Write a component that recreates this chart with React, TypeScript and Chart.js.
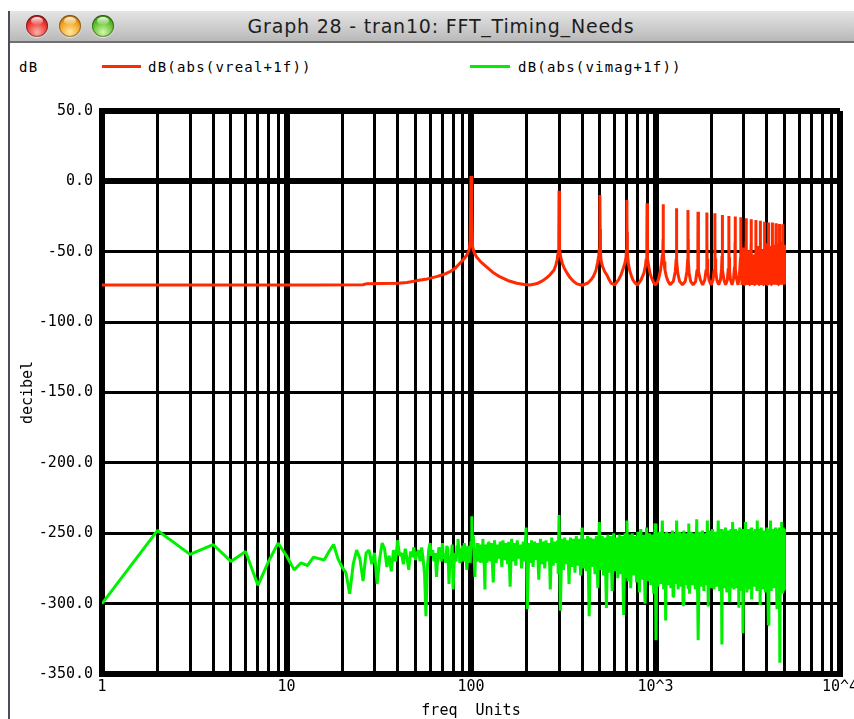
import React, { useEffect, useRef } from "react";
import { Chart, registerables } from "chart.js";

Chart.register(...registerables);

// ---------------- data ----------------
const windowTitle = "Graph 28 - tran10: FFT_Timing_Needs";
const yUnitLabel = "dB";
const redLabel = "dB(abs(vreal+1f))";
const greenLabel = "dB(abs(vimag+1f))";
const xTitle = "freq  Units";
const yTitle = "decibel";

const xGridTicks = [
  1, 2, 3, 4, 5, 6, 7, 8, 9,
  10, 20, 30, 40, 50, 60, 70, 80, 90,
  100, 200, 300, 400, 500, 600, 700, 800, 900,
  1000, 2000, 3000, 4000, 5000, 6000, 7000, 8000, 9000,
  10000,
];
const xDecadeValues = [1, 10, 100, 1000, 10000];
const xDecadeLabels = ["1", "10", "100", "10^3", "10^4"];
const yTickValues = [-350, -300, -250, -200, -150, -100, -50, 0, 50];

// red: dB(abs(vreal+1f)) — [freq, dB]
const redLow: [number, number][] = [
  [1, -73.6], [14, -73.6], [26, -73.4], [27, -72.8], [40, -72.4], [45, -71.8], [51, -70.5],
  [58, -69.3], [65, -67.7], [71, -66.2], [77, -64.2], [82, -61.8], [87, -58.2], [91, -55.5],
  [95, -52.3], [97, -49.5], [98, -47.6], [99, -42], [100, 3.8], [101, -16.8], [102, -46.5],
  [104, -50.5], [107, -53.5], [113, -57.2], [121, -60.6], [131, -64.5], [143, -67.7],
  [158, -70.4], [177, -72.4], [195, -73.3], [209, -73.6], [228, -72.6], [245, -70.5],
  [255, -68.9], [268, -66.4], [282, -63], [289, -59], [293, -55.9], [297, -50], [299, -43],
  [300, -6.6], [301, -32], [303, -48], [306, -53.5], [313, -58.5], [320, -61.5], [331, -65],
  [345, -68.5], [359, -71], [375, -72.8], [400, -73.8], [430, -72.2], [450, -69.5],
  [460, -67.7], [475, -63.5], [485, -58], [492, -53], [496, -48], [499, -40], [500, -9.7],
  [501, -34], [503, -50], [507, -56], [515, -60], [530, -64], [545, -66.5], [560, -69.8],
  [575, -72.4], [600, -73.6], [630, -70], [650, -66.5], [670, -61.5], [683, -58], [692, -54],
  [697, -48], [699, -41], [700, -13.2], [701, -36], [704, -50], [712, -58], [725, -63.5],
  [740, -67], [754, -70], [775, -72.2], [800, -73.6], [835, -70], [866, -65], [882, -60],
  [891, -55], [896, -50], [899, -42], [900, -15.5], [901, -38], [904, -50], [910, -55],
  [921, -61], [935, -65.5], [955, -69], [981, -72.4], [1000, -73.6], [1025, -71.5],
  [1040, -69], [1065, -63], [1080, -57], [1090, -52], [1097, -47], [1099, -41], [1100, -16.3],
  [1101, -38], [1104, -50], [1112, -57], [1125, -63], [1145, -67.5], [1170, -71], [1200, -73.5],
];
const redMid: [number, number][] = [
  [1250, -71], [1280, -64], [1295, -55], [1299, -46], [1300, -19.1], [1301, -42], [1305, -56], [1320, -65], [1350, -71], [1400, -73.5],
  [1450, -71], [1480, -64], [1495, -55], [1499, -45], [1500, -20.3], [1501, -41], [1505, -56], [1520, -65], [1550, -71], [1600, -73.5],
  [1650, -71], [1680, -63], [1695, -54], [1699, -45], [1700, -21.5], [1701, -40], [1705, -55], [1720, -64], [1750, -70], [1800, -73.5],
  [1850, -70], [1880, -63], [1895, -54], [1899, -45], [1900, -22.2], [1901, -42], [1905, -55], [1920, -64], [1950, -70], [2000, -73.5],
  [2050, -70], [2080, -63], [2095, -54], [2099, -48], [2100, -22.7], [2101, -45], [2105, -55], [2120, -64], [2150, -70], [2200, -73.5],
  [2250, -70], [2280, -62], [2295, -53], [2299, -45], [2300, -23.9], [2301, -42], [2305, -54], [2320, -63], [2350, -70], [2400, -73.5],
  [2450, -70], [2480, -62], [2495, -53], [2499, -44], [2500, -24.6], [2501, -41], [2505, -54], [2520, -63], [2550, -70], [2600, -73.5],
  [2650, -69], [2680, -61], [2695, -52], [2699, -43], [2700, -25.0], [2701, -41], [2705, -53], [2720, -62], [2750, -69], [2800, -73.5],
];
const redHigh: [number, number][] = [
  [2850, -67], [2890, -54], [2899, -43], [2900, -25.5], [2901, -41], [2910, -55], [2945, -73.5], [3000, -47], [3040, -73.5],
  [3050, -67], [3090, -54], [3099, -43], [3100, -26.2], [3101, -41], [3110, -55], [3145, -73.5], [3200, -49], [3240, -73.5],
  [3250, -67], [3290, -54], [3299, -44], [3300, -26.9], [3301, -42], [3310, -55], [3345, -73.5], [3400, -52], [3440, -73.5],
  [3450, -67], [3490, -55], [3499, -45], [3500, -27.4], [3501, -43], [3510, -56], [3545, -73.5], [3600, -46], [3640, -73.5],
  [3650, -66], [3690, -54], [3699, -43], [3700, -28.0], [3701, -41], [3710, -55], [3745, -73.5], [3800, -48], [3840, -73.5],
  [3850, -66], [3890, -54], [3899, -42], [3900, -28.6], [3901, -40], [3910, -55], [3945, -73.5], [4000, -44], [4040, -73.5],
  [4050, -66], [4090, -54], [4099, -42], [4100, -29.3], [4101, -40], [4110, -55], [4145, -73.5], [4200, -46], [4240, -73.5],
  [4250, -66], [4290, -54], [4299, -42], [4300, -29.3], [4301, -41], [4310, -55], [4345, -73.5], [4400, -45], [4440, -73.5],
  [4450, -66], [4490, -54], [4499, -42], [4500, -29.8], [4501, -40], [4510, -55], [4545, -73.5], [4600, -44], [4640, -73.5],
  [4650, -66], [4690, -54], [4699, -42], [4700, -30.2], [4701, -40], [4710, -55], [4745, -73.5], [4800, -43], [4840, -73.5],
  [4850, -66], [4890, -54], [4899, -42], [4900, -30.5], [4901, -40], [4910, -55], [4945, -73.5], [4980, -45], [5000, -73.5],
];

// green: dB(abs(vimag+1f)) — [freq, dB]
const greenLow: [number, number][] = [
  [1, -300], [2, -248], [3, -265], [4, -258], [5, -270], [6, -263], [7, -287], [8, -270], [9, -257],
  [10, -266], [11, -276], [12, -271], [13, -273], [14, -267], [15, -268], [16, -269], [17, -263],
  [18, -258], [19, -268], [20, -274], [21, -278], [22, -293], [23, -272], [24, -262], [25, -268],
  [26, -284], [27, -264], [28, -262], [29, -272], [30, -264], [31, -286], [32, -268], [33, -257],
  [34, -261], [35, -274], [36, -266], [37, -277], [38, -262], [39, -270], [40, -255], [41, -266],
  [42, -264], [43, -272], [44, -261], [45, -268], [46, -276], [47, -263], [48, -267], [49, -260],
  [50, -269], [51, -264], [52, -262], [53, -270], [54, -260], [55, -268], [56, -279], [57, -309],
  [58, -274], [59, -262], [60, -257], [61, -266], [62, -262], [63, -270], [64, -264], [65, -281],
  [66, -268], [67, -260], [68, -266], [69, -270], [70, -257], [71, -268], [72, -265], [73, -271],
  [74, -259], [75, -262], [76, -286], [77, -266], [78, -270], [79, -258], [80, -290], [81, -272],
  [82, -264], [83, -270], [84, -259], [85, -254], [86, -263], [87, -271], [88, -269], [89, -262],
  [90, -259], [91, -270], [92, -257], [93, -266], [94, -268], [95, -276], [96, -259], [97, -262],
  [98, -268], [99, -271], [100, -256], [101, -238], [102, -259], [103, -252], [104, -266],
  [105, -281], [106, -262], [107, -270], [108, -257], [109, -268], [110, -270], [111, -258],
  [112, -264], [113, -271], [114, -258], [115, -267], [116, -254], [117, -268], [118, -273],
  [119, -290], [120, -258], [121, -262], [122, -271], [123, -259], [124, -257],
];
const greenMid: [number, number][] = [
  [125, -256], [127, -270], [129, -257], [132, -285], [134, -255], [137, -271], [139, -258],
  [142, -268], [144, -256], [147, -274], [149, -255], [152, -269], [155, -257], [158, -272],
  [160, -256], [163, -288], [166, -254], [169, -270], [172, -257], [175, -273], [178, -255],
  [182, -268], [185, -258], [188, -275], [192, -256], [195, -270], [199, -246], [202, -304],
  [206, -257], [210, -271], [213, -255], [217, -274], [221, -256], [225, -269], [229, -257],
  [233, -283], [238, -254], [242, -272], [246, -256], [251, -275], [255, -255], [260, -270],
  [265, -257], [269, -290], [274, -253], [279, -273], [284, -256], [289, -271], [295, -255],
  [297, -279], [300, -237], [305, -305], [311, -254], [317, -276], [322, -253], [328, -272],
  [334, -255], [340, -286], [346, -253], [353, -274], [359, -254], [366, -278], [372, -252],
  [379, -273], [386, -254], [393, -280], [400, -246], [407, -275], [414, -254], [422, -277],
  [429, -252], [437, -309], [445, -253], [453, -274], [461, -254], [470, -279], [478, -252],
  [487, -289], [496, -242], [505, -276], [514, -252], [523, -280], [532, -253], [542, -303],
  [552, -251], [562, -278], [572, -252], [582, -291], [593, -250], [603, -277], [614, -253],
  [625, -282], [637, -251], [648, -279], [660, -252], [672, -308], [684, -250], [696, -281],
  [700, -241], [709, -284], [721, -251], [734, -289], [748, -250], [761, -280], [775, -252],
  [789, -285], [803, -249], [818, -292], [832, -247], [847, -283], [863, -251], [878, -300],
  [894, -246], [910, -284], [927, -250], [943, -287], [960, -251], [978, -293], [995, -243],
];
const greenHigh: [number, number][] = [
  [1006, -326], [1020, -250], [1032, -288], [1050, -249], [1069, -286], [1089, -241], [1108, -290],
  [1128, -250], [1135, -312], [1149, -249], [1170, -287], [1191, -250], [1212, -289], [1234, -248],
  [1245, -295], [1256, -250], [1279, -286], [1302, -241], [1326, -290], [1350, -249], [1374, -288],
  [1399, -250], [1410, -301], [1424, -248], [1450, -287], [1476, -250], [1503, -289], [1515, -243],
  [1530, -293], [1558, -249], [1586, -287], [1614, -250], [1643, -290], [1673, -240], [1703, -326],
  [1734, -249], [1765, -288], [1797, -248], [1830, -291], [1863, -250], [1896, -287], [1910, -241],
  [1931, -302], [1965, -248], [2001, -289], [2037, -247], [2074, -290], [2111, -249], [2149, -288],
  [2188, -241], [2228, -291], [2268, -247], [2290, -329], [2309, -248], [2350, -289], [2393, -246],
  [2436, -292], [2480, -248], [2525, -299], [2570, -247], [2600, -288], [2617, -242], [2664, -290],
  [2712, -247], [2761, -289], [2811, -248], [2830, -303], [2861, -246], [2913, -291], [2965, -247],
  [2980, -321], [3019, -248], [3050, -289], [3073, -242], [3129, -292], [3185, -247], [3243, -290],
  [3301, -246], [3320, -297], [3361, -248], [3421, -288], [3483, -247], [3546, -291], [3560, -241],
  [3610, -289], [3675, -247], [3690, -301], [3741, -246], [3808, -290], [3877, -248], [3947, -292],
  [4018, -246], [4091, -315], [4120, -247], [4164, -290], [4200, -241], [4239, -291], [4316, -247],
  [4394, -289], [4473, -246], [4554, -304], [4600, -247], [4636, -290], [4680, -246], [4719, -342],
  [4760, -247], [4804, -291], [4830, -242], [4891, -293], [4930, -246], [4979, -290], [4995, -247],
];

// ---------------- styles ----------------
const RED = "#ff2a00";
const GREEN = "#00f000";
const MONO = "'DejaVu Sans Mono', monospace";

const toXY = (pts: [number, number][]) => pts.map(([x, y]) => ({ x, y }));

function Light({ left, c1, c2, c3 }: { left: number; c1: string; c2: string; c3: string }) {
  return (
    <div
      style={{
        position: "absolute",
        left,
        top: 15,
        width: 22,
        height: 22,
        borderRadius: "50%",
        background: `radial-gradient(circle at 50% 78%, ${c1} 0%, ${c2} 55%, ${c3} 100%)`,
        boxShadow: "inset 0 0 0 1px rgba(0,0,0,0.35), 0 1px 1px rgba(255,255,255,0.6)",
      }}
    >
      <div
        style={{
          position: "absolute",
          left: 5,
          top: 2,
          width: 12,
          height: 8,
          borderRadius: "50%",
          background: "linear-gradient(rgba(255,255,255,0.95), rgba(255,255,255,0.05))",
        }}
      />
    </div>
  );
}

export default function App() {
  const ref = useRef<HTMLCanvasElement | null>(null);

  useEffect(() => {
    if (!ref.current) return;
    const tickFont = { family: MONO, size: 15 };
    const chart = new Chart(ref.current, {
      type: "line",
      data: {
        datasets: [
          {
            label: redLabel,
            data: toXY([...redLow, ...redMid, ...redHigh]),
            borderColor: RED,
            backgroundColor: RED,
            borderWidth: 3,
            pointRadius: 0,
            tension: 0,
            borderJoinStyle: "bevel",
          },
          {
            label: greenLabel,
            data: toXY([...greenLow, ...greenMid, ...greenHigh]),
            borderColor: GREEN,
            backgroundColor: GREEN,
            borderWidth: 3,
            pointRadius: 0,
            tension: 0,
            borderJoinStyle: "bevel",
          },
        ],
      },
      options: {
        animation: false,
        responsive: false,
        maintainAspectRatio: false,
        events: [],
        layout: { padding: { left: 0, right: 50, top: 21, bottom: 0 } },
        plugins: { legend: { display: false }, tooltip: { enabled: false } },
        scales: {
          x: {
            type: "logarithmic",
            min: 1,
            max: 10000,
            afterBuildTicks: (s: any) => {
              s.ticks = xGridTicks.map((v) => ({ value: v }));
            },
            afterFit: (s: any) => {
              s.height = 45;
            },
            ticks: {
              autoSkip: false,
              maxRotation: 0,
              minRotation: 0,
              padding: 4,
              color: "#000",
              font: tickFont,
              callback: (v: any) => {
                const i = xDecadeValues.indexOf(Number(v));
                return i >= 0 ? xDecadeLabels[i] : "";
              },
            },
            grid: {
              color: "#000",
              drawTicks: false,
              lineWidth: (ctx: any) =>
                ctx.tick && xDecadeValues.indexOf(ctx.tick.value) >= 0 ? 6 : 3,
            },
            border: { display: true, color: "#000", width: 6 },
            title: {
              display: true,
              text: xTitle,
              color: "#000",
              font: { family: MONO, size: 15, lineHeight: 1.07 },
              padding: { top: 0, bottom: 0 },
            },
          },
          y: {
            type: "linear",
            min: -350,
            max: 50,
            afterBuildTicks: (s: any) => {
              s.ticks = yTickValues.map((v) => ({ value: v }));
            },
            afterFit: (s: any) => {
              s.width = 92;
            },
            ticks: {
              padding: 9,
              color: "#000",
              font: tickFont,
              callback: (v: any) => Number(v).toFixed(1),
            },
            grid: {
              color: "#000",
              drawTicks: false,
              lineWidth: (ctx: any) =>
                ctx.tick && (ctx.tick.value === 0 || ctx.tick.value === 50) ? 6 : 3,
            },
            border: { display: true, color: "#000", width: 6 },
            title: {
              display: true,
              text: yTitle,
              color: "#000",
              font: { family: MONO, size: 15, lineHeight: 1.07 },
              padding: { top: 10, bottom: 0 },
            },
          },
        },
      },
    } as any);
    return () => chart.destroy();
  }, []);

  return (
    <div
      style={{
        position: "fixed",
        left: 0,
        top: 0,
        width: 854,
        height: 719,
        overflow: "hidden",
        background: "#fff",
      }}
    >
      {/* window left edge */}
      <div style={{ position: "absolute", left: 8, top: 11, width: 2, height: 708, background: "#4e4a62" }} />
      {/* title bar */}
      <div
        style={{
          position: "absolute",
          left: 10,
          top: 11,
          width: 844,
          height: 30,
          background: "linear-gradient(#e4e4e4, #cfcfcf 50%, #b9b9b9)",
          borderBottom: "2px solid #6f6f6f",
        }}
      />
      <Light left={26} c1="#ffb0a8" c2="#e8322f" c3="#8e0f0f" />
      <Light left={58.5} c1="#ffe9a0" c2="#f0a020" c3="#a35a00" />
      <Light left={92} c1="#d6f7b0" c2="#5cbf2a" c3="#2d6e0e" />
      <div
        style={{
          position: "absolute",
          left: 10,
          top: 13,
          width: 862,
          textAlign: "center",
          fontFamily: "'Lucida Grande', 'DejaVu Sans', sans-serif",
          fontSize: 19,
          letterSpacing: 0.8,
          lineHeight: "26px",
          color: "#1e1e1e",
          whiteSpace: "pre",
        }}
      >
        {windowTitle}
      </div>
      {/* legend */}
      <div style={{ position: "absolute", left: 19, top: 58, fontFamily: MONO, fontSize: 14, lineHeight: "18px", letterSpacing: 1.2, color: "#000", whiteSpace: "pre" }}>
        {yUnitLabel}
      </div>
      <div style={{ position: "absolute", left: 102, top: 65, width: 39, height: 3, background: RED }} />
      <div style={{ position: "absolute", left: 148, top: 58, fontFamily: MONO, fontSize: 14, lineHeight: "18px", letterSpacing: 1.2, color: "#000", whiteSpace: "pre" }}>
        {redLabel}
      </div>
      <div style={{ position: "absolute", left: 470, top: 65, width: 40, height: 3, background: GREEN }} />
      <div style={{ position: "absolute", left: 518, top: 58, fontFamily: MONO, fontSize: 14, lineHeight: "18px", letterSpacing: 1.2, color: "#000", whiteSpace: "pre" }}>
        {greenLabel}
      </div>
      {/* chart */}
      <div style={{ position: "absolute", left: 10, top: 90, width: 880, height: 629 }}>
        <canvas ref={ref} width={880} height={629} style={{ display: "block", width: 880, height: 629 }} />
      </div>
    </div>
  );
}
